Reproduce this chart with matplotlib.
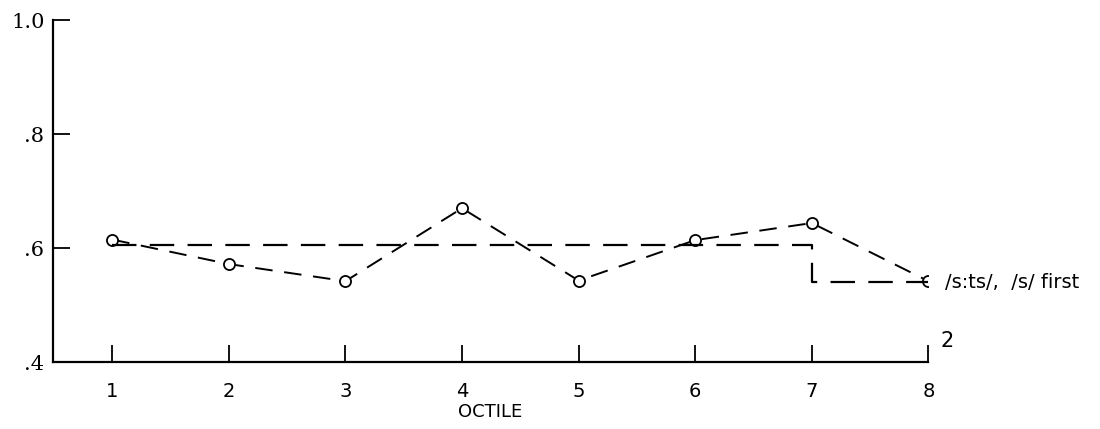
import matplotlib
matplotlib.use("Agg")
import matplotlib.pyplot as plt

octiles = [1, 2, 3, 4, 5, 6, 7, 8]
values = [0.615, 0.572, 0.542, 0.670, 0.543, 0.614, 0.644, 0.542]
step_x = [1, 7, 7, 8]
step_y = [0.606, 0.606, 0.540, 0.540]
y_ticks = [0.4, 0.6, 0.8, 1.0]
y_labels = [".4", ".6", ".8", "1.0"]
series_label = "/s:ts/,  /s/ first"

fig = plt.figure(figsize=(11, 4.29), dpi=100)
ax = fig.add_axes([0.048, 0.156, 0.796, 0.797])

ax.plot(octiles, values, color="black", lw=1.4, dashes=(9, 6),
        marker="o", markersize=8, markerfacecolor="white", markeredgecolor="black",
        markeredgewidth=1.3)
ax.plot(step_x, step_y, color="black", lw=1.6, dashes=(11, 6))

ax.set_xlim(0.49, 8)
ax.set_ylim(0.4, 1.0)
ax.set_xticks(octiles)
ax.set_xticklabels([str(o) for o in octiles], fontsize=14)
ax.set_yticks(y_ticks)
ax.set_yticklabels(y_labels, fontsize=15, family="DejaVu Serif")
ax.tick_params(axis="both", direction="in", length=12, width=1.3, colors="black")
ax.tick_params(axis="x", pad=14)
ax.tick_params(axis="y", pad=6)
for s in ["top", "right"]:
    ax.spines[s].set_visible(False)
for s in ["left", "bottom"]:
    ax.spines[s].set_linewidth(1.6)
ax.set_xlabel("OCTILE", fontsize=13, labelpad=2)

ax.text(8.14, 0.540, series_label, fontsize=14, va="center", ha="left")
ax.text(8.1, 0.42, "2", fontsize=15, va="bottom", ha="left")

fig.savefig("out.png", dpi=100)
